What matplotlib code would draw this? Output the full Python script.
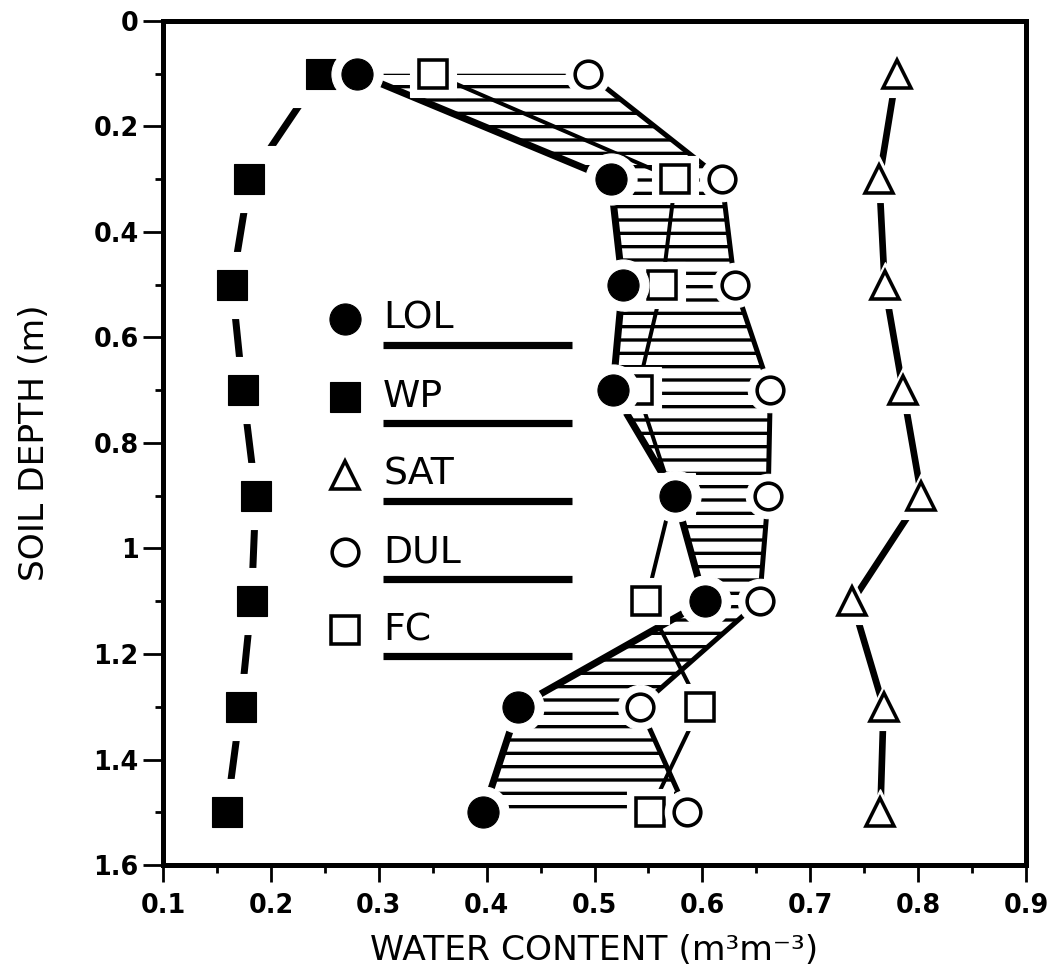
import matplotlib
matplotlib.use("Agg")
import matplotlib.pyplot as plt
import numpy as np

depth = [0.1, 0.3, 0.5, 0.7, 0.9, 1.1, 1.3, 1.5]
lol = [0.280, 0.515, 0.526, 0.517, 0.575, 0.602, 0.429, 0.397]
wp = [0.246, 0.180, 0.164, 0.174, 0.186, 0.182, 0.172, 0.159]
sat = [0.780, 0.764, 0.769, 0.786, 0.803, 0.739, 0.768, 0.765]
dul = [0.494, 0.618, 0.630, 0.663, 0.661, 0.653, 0.542, 0.586]
fc = [0.350, 0.575, 0.563, 0.540, 0.572, 0.548, 0.598, 0.551]

x_ticks = [0.1, 0.2, 0.3, 0.4, 0.5, 0.6, 0.7, 0.8, 0.9]
y_ticks = [0, 0.2, 0.4, 0.6, 0.8, 1.0, 1.2, 1.4, 1.6]
y_tick_labels = ["0", "0.2", "0.4", "0.6", "0.8", "1", "1.2", "1.4", "1.6"]

plt.rcParams["font.family"] = ["DejaVu Sans"]
plt.rcParams["hatch.linewidth"] = 3.0

dpi = 80
fig = plt.figure(figsize=(1054 / dpi, 975 / dpi), dpi=dpi)
ax = fig.add_axes([0.1547, 0.1128, 0.8187, 0.8657])

# hatched band between lower limit and drained upper limit
ax.fill_betweenx(depth, lol, dul, facecolor="none", edgecolor="black",
                 hatch="-", linewidth=0, zorder=1)

# (values, marker, size, filled, line width, halo) -- drawn back to front
series = [
    (fc, "s", 26, False, 3.6, 16),
    (dul, "o", 24, False, 4.5, 16),
    (sat, "^", 26, False, 6.0, 16),
    (wp, "s", 27, True, 6.3, 32),
    (lol, "o", 28, True, 6.3, 18),
]

for vals, mk, ms, filled, lw, halo in series:
    ax.plot(vals, depth, color="black", linewidth=lw, zorder=2,
            solid_capstyle="butt")

# each symbol sits on a white halo so the lines stop short of it
z = 3
for vals, mk, ms, filled, lw, halo in series:
    ax.plot(vals, depth, linestyle="none", marker=mk, markersize=ms + halo,
            markerfacecolor="white", markeredgecolor="white", zorder=z)
    ax.plot(vals, depth, linestyle="none", marker=mk, markersize=ms,
            markerfacecolor="black" if filled else "white",
            markeredgecolor="black", markeredgewidth=1 if filled else 3.2,
            zorder=z + 1)
    z += 2

# legend: symbol, name, sample line underneath
legend_items = [("LOL", "o", 28, True), ("WP", "s", 27, True), ("SAT", "^", 26, False),
                ("DUL", "o", 24, False), ("FC", "s", 26, False)]
y0 = 0.647
for i, (name, mk, ms, filled) in enumerate(legend_items):
    yy = y0 - i * 0.0922
    ax.plot([0.211], [yy], transform=ax.transAxes, linestyle="none", marker=mk,
            markersize=ms, markerfacecolor="black" if filled else "white",
            markeredgecolor="black", markeredgewidth=1 if filled else 3.2,
            clip_on=False, zorder=20)
    ax.text(0.255, yy, name, transform=ax.transAxes, fontsize=34,
            ha="left", va="center", zorder=20)
    ax.plot([0.255, 0.474], [yy - 0.031, yy - 0.031], transform=ax.transAxes,
            color="black", linewidth=6.5, solid_capstyle="butt", zorder=20)

ax.set_xlim(0.1, 0.9)
ax.set_ylim(1.6, 0)
ax.set_xticks(x_ticks)
ax.set_xticklabels([f"{v:.1f}" for v in x_ticks])
ax.set_yticks(y_ticks)
ax.set_yticklabels(y_tick_labels)
ax.set_xticks(np.arange(0.15, 0.9, 0.1), minor=True)
ax.set_yticks(np.arange(0.1, 1.6, 0.2), minor=True)

for side in ax.spines.values():
    side.set_linewidth(4.5)
    side.set_zorder(30)

ax.tick_params(axis="both", which="major", direction="out", width=2.5,
               labelsize=23)
ax.tick_params(axis="x", which="major", length=15, pad=10)
ax.tick_params(axis="y", which="major", length=18, pad=4)
ax.tick_params(axis="both", which="minor", direction="out", length=7, width=2.5)
for lab in ax.get_xticklabels() + ax.get_yticklabels():
    lab.set_fontweight("bold")

ax.set_xlabel("WATER CONTENT (m³m⁻³)", fontsize=31, labelpad=14)
ax.set_ylabel("SOIL DEPTH (m)", fontsize=31, labelpad=38)

fig.savefig("out.png", dpi=dpi, facecolor="white")
